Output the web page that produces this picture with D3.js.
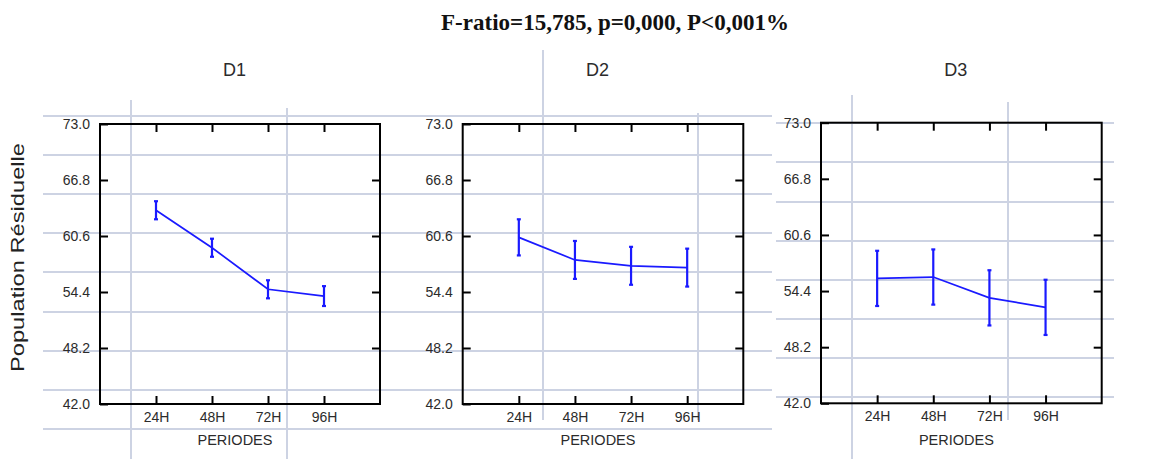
<!DOCTYPE html>
<html>
<head>
<meta charset="utf-8">
<script src="https://cdn.jsdelivr.net/npm/d3@7"></script>
<style>
  html, body { margin: 0; padding: 0; background: #fff; }
  svg { display: block; }
</style>
</head>
<body>
<svg id="chart" width="1163" height="459"></svg>
<script>
// Means and LSD half-widths of the residual population per period, by dose
const periods = ["24H", "48H", "72H", "96H"];
const yTicks = [42.0, 48.2, 54.4, 60.6, 66.8, 73.0];
const panelNames = ["D1", "D2", "D3"];
const d1Mean = [63.45, 59.3, 54.7, 53.95];
const d1Half = [1.0, 1.0, 1.0, 1.1];
const d2Mean = [60.45, 57.95, 57.3, 57.1];
const d2Half = [2.0, 2.1, 2.1, 2.1];
const d3Mean = [55.8, 55.95, 53.65, 52.6];
const d3Half = [3.05, 3.05, 3.05, 3.05];

const titleText = "F-ratio=15,785, p=0,000, P<0,001%";
const yLabel = "Population Résiduelle";
const xLabel = "PERIODES";

const means = [d1Mean, d2Mean, d3Mean];
const halves = [d1Half, d2Half, d3Half];

// Frame geometry of each panel
const frames = [
  { x0: 100,   x1: 380,    y0: 124,   y1: 404 },
  { x0: 462.7, x1: 743.3,  y0: 124,   y1: 404 },
  { x0: 821,   x1: 1101.7, y0: 122.7, y1: 403.3 }
];

const svg = d3.select("#chart");
const sans = "'Liberation Sans', Arial, sans-serif";
const ink = "#2b2b2b";
const blue = "#1a1aff";

// Faint ruled backdrop behind the plots
const back = svg.append("g").attr("stroke", "#cdd3e3").attr("stroke-width", 2);
d3.range(9).forEach(k => {
  const y = Math.round(116 + 39.1 * k);
  back.append("line").attr("x1", 43).attr("x2", 772).attr("y1", y).attr("y2", y);
});
d3.range(8).forEach(k => {
  const y = Math.round(123.3 + 39.1 * k);
  back.append("line").attr("x1", 776).attr("x2", 1114).attr("y1", y).attr("y2", y);
});
[[131, 100, 459], [287, 108, 459], [543, 50, 420], [698, 113, 420], [852, 95, 459], [1008, 102, 420]]
  .forEach(([x, ya, yb]) => back.append("line").attr("x1", x).attr("x2", x).attr("y1", ya).attr("y2", yb));

// Overall title
svg.append("text")
  .attr("x", 615).attr("y", 30)
  .attr("text-anchor", "middle")
  .attr("font-family", "'Liberation Serif', 'Times New Roman', serif")
  .attr("font-weight", "bold")
  .attr("font-size", 23)
  .attr("fill", "#111")
  .text(titleText);

// Shared y-axis title
svg.append("text")
  .attr("transform", "translate(24,257.5) rotate(-90)")
  .attr("text-anchor", "middle")
  .attr("font-family", sans)
  .attr("font-size", 19)
  .attr("textLength", 229)
  .attr("lengthAdjust", "spacingAndGlyphs")
  .attr("fill", "#222")
  .text(yLabel);

frames.forEach((f, i) => {
  const x = d3.scalePoint().domain(periods).range([f.x0, f.x1]).padding(1);
  const y = d3.scaleLinear().domain([42, 73]).range([f.y1, f.y0]);
  const g = svg.append("g");

  // Panel label
  g.append("text")
    .attr("x", (f.x0 + f.x1) / 2 - 5.5).attr("y", 76)
    .attr("text-anchor", "middle")
    .attr("font-family", sans).attr("font-size", 18)
    .attr("fill", ink)
    .text(panelNames[i]);

  // Inward ticks on all four sides
  const tickLen = 8;
  const axisStyle = sel => {
    sel.select(".domain").remove();
    sel.selectAll(".tick line").attr("stroke", "#000").attr("stroke-width", 2);
    sel.selectAll(".tick text").attr("font-family", sans).attr("font-size", 14).attr("fill", ink);
  };
  g.append("g").attr("transform", `translate(${f.x0},0)`)
    .call(d3.axisLeft(y).tickValues(yTicks).tickFormat(d3.format(".1f")).tickSizeInner(-tickLen).tickSizeOuter(0).tickPadding(10))
    .call(axisStyle);
  g.append("g").attr("transform", `translate(${f.x1},0)`)
    .call(d3.axisRight(y).tickValues(yTicks.slice(1, -1)).tickFormat("").tickSizeInner(-tickLen).tickSizeOuter(0))
    .call(axisStyle);
  g.append("g").attr("transform", `translate(0,${f.y1})`)
    .call(d3.axisBottom(x).tickSizeInner(-tickLen).tickSizeOuter(0).tickPadding(8))
    .call(axisStyle);
  g.append("g").attr("transform", `translate(0,${f.y0})`)
    .call(d3.axisTop(x).tickFormat("").tickSizeInner(-tickLen).tickSizeOuter(0))
    .call(axisStyle);

  // Frame
  g.append("rect")
    .attr("x", f.x0).attr("y", f.y0)
    .attr("width", f.x1 - f.x0).attr("height", f.y1 - f.y0)
    .attr("fill", "none").attr("stroke", "#000").attr("stroke-width", 2);

  // X-axis title
  g.append("text")
    .attr("x", (f.x0 + f.x1) / 2 - 5).attr("y", 445)
    .attr("text-anchor", "middle")
    .attr("font-family", sans).attr("font-size", 14.5)
    .attr("fill", ink)
    .text(xLabel);

  const pts = periods.map((p, j) => ({ p, m: means[i][j], h: halves[i][j] }));

  // Line through the means
  g.append("path")
    .datum(pts)
    .attr("fill", "none").attr("stroke", blue).attr("stroke-width", 1.7)
    .attr("d", d3.line().x(d => x(d.p)).y(d => y(d.m)));

  // Interval bars with caps
  const bars = g.append("g").attr("stroke", blue).attr("stroke-width", 2.2).attr("fill", "none");
  bars.selectAll("line.bar").data(pts).join("line")
    .attr("class", "bar")
    .attr("x1", d => x(d.p)).attr("x2", d => x(d.p))
    .attr("y1", d => y(d.m + d.h)).attr("y2", d => y(d.m - d.h));
  ["top", "bottom"].forEach(end => {
    bars.selectAll(`line.cap-${end}`).data(pts).join("line")
      .attr("class", `cap-${end}`)
      .attr("x1", d => x(d.p) - 2).attr("x2", d => x(d.p) + 2)
      .attr("y1", d => y(end === "top" ? d.m + d.h : d.m - d.h))
      .attr("y2", d => y(end === "top" ? d.m + d.h : d.m - d.h));
  });
});
</script>
</body>
</html>
